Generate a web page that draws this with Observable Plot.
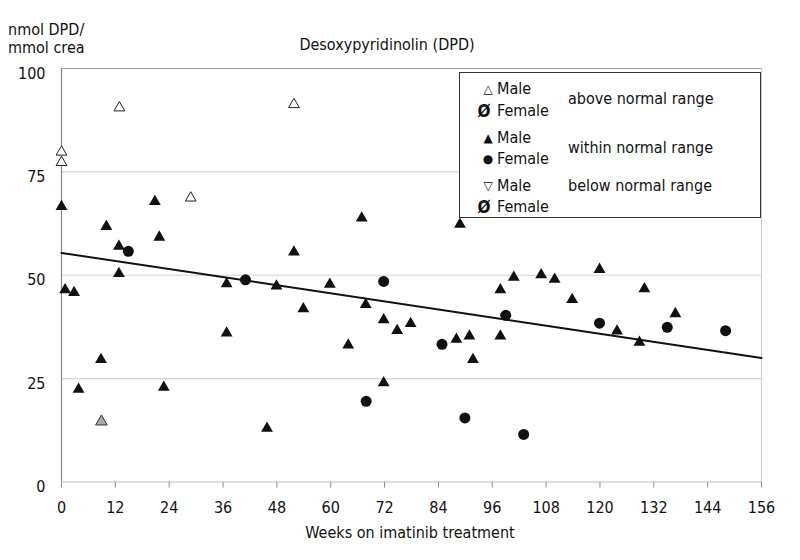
<!DOCTYPE html>
<html>
<head>
<meta charset="utf-8">
<script src="https://cdn.jsdelivr.net/npm/d3@7"></script>
<script src="https://cdn.jsdelivr.net/npm/@observablehq/plot@0.6"></script>
<style>
  html, body { margin: 0; padding: 0; background: #fff; }
  #wrap { position: relative; width: 800px; height: 560px; font-family: "Liberation Sans Narrow", "DejaVu Sans Condensed", "Arial Narrow", sans-serif; color: #111; }
  .t { position: absolute; font-size: 16px; line-height: 1; white-space: nowrap; transform: translateY(-50%); }
  .sym { position: absolute; line-height: 1; white-space: nowrap; transform: translate(-50%, -50%); font-family: "DejaVu Sans", sans-serif; font-size: 12px; }
  #legend { position: absolute; left: 459px; top: 72px; width: 302px; height: 146px; border: 1.5px solid #333; background: #fff; box-sizing: border-box; }
</style>
</head>
<body>
<div id="wrap"></div>
<script>
// ---- data ----
const xTicks = [0, 12, 24, 36, 48, 60, 72, 84, 96, 108, 120, 132, 144, 156];
const yTicks = [0, 25, 50, 75, 100];
const gridY = [25, 50, 75];

// male, above normal range (open triangles)
const aboveMaleX = [0, 0, 12.9, 28.8, 51.8];
const aboveMaleY = [79.8, 77.3, 90.5, 68.7, 91.3];

// grey triangle
const greyMaleX = [8.9];
const greyMaleY = [14.6];

// male, within normal range (filled triangles)
const withinMaleX = [0, 0.8, 2.8, 3.8, 8.8, 10.0, 12.8, 12.8, 20.8, 21.8, 22.8, 36.8, 36.8, 45.8, 47.9, 51.8, 53.9, 59.8, 63.9, 66.9, 67.8, 71.8, 71.8, 74.8, 77.8, 88.0, 88.8, 90.9, 91.7, 97.8, 97.8, 100.8, 106.9, 109.9, 113.8, 119.9, 123.8, 128.8, 129.9, 136.8];
const withinMaleY = [66.6, 46.5, 45.8, 22.4, 29.6, 61.8, 57.0, 50.4, 67.8, 59.2, 22.9, 47.9, 36.0, 13.0, 47.4, 55.6, 41.9, 47.8, 33.1, 63.8, 42.9, 39.2, 24.0, 36.6, 38.3, 34.5, 62.3, 35.3, 29.6, 46.5, 35.3, 49.5, 50.1, 49.0, 44.1, 51.4, 36.5, 33.8, 46.7, 40.7];

// female, within normal range (filled circles)
const withinFemaleX = [14.9, 41.0, 67.9, 71.8, 84.8, 89.9, 99.0, 103.0, 119.9, 135.0, 148.0];
const withinFemaleY = [55.8, 48.9, 19.5, 48.5, 33.3, 15.5, 40.3, 11.5, 38.4, 37.4, 36.6];

// trend line end points
const trendX = [0, 156];
const trendY = [55.4, 30.0];

const toRows = (xs, ys) => xs.map((x, i) => ({x, y: ys[i]}));
const aboveMale = toRows(aboveMaleX, aboveMaleY);
const greyMale = toRows(greyMaleX, greyMaleY);
const withinMale = toRows(withinMaleX, withinMaleY);
const withinFemale = toRows(withinFemaleX, withinFemaleY);
const trend = toRows(trendX, trendY);

const FONT = '"Liberation Sans Narrow", "DejaVu Sans Condensed", "Arial Narrow", sans-serif';

const chart = Plot.plot({
  width: 800,
  height: 560,
  marginLeft: 61,
  marginRight: 39,
  marginTop: 68,
  marginBottom: 78.5,
  style: {fontFamily: FONT, fontSize: "16px", color: "#111", background: "#fff", overflow: "visible"},
  x: {domain: [0, 156]},
  y: {domain: [0, 100]},
  marks: [
    Plot.ruleY(gridY, {stroke: "#d4d4d4", strokeWidth: 1.2}),
    Plot.ruleY([100], {stroke: "#9a9a9a", strokeWidth: 1.2}),
    Plot.ruleX([156], {stroke: "#cfcfcf", strokeWidth: 1.2}),
    Plot.axisX({ticks: xTicks, tickSize: 6, tickPadding: 14, stroke: "#888", fill: "#111", label: null, tickFormat: d => String(d)}),
    Plot.axisY({ticks: yTicks, tickSize: 0, tickPadding: 16, dy: 5, fill: "#111", label: null}),
    Plot.ruleX([0], {stroke: "#888", strokeWidth: 1.2}),
    Plot.ruleY([0], {stroke: "#bbb", strokeWidth: 1.2}),
    Plot.line(trend, {x: "x", y: "y", stroke: "#111", strokeWidth: 2}),
    Plot.dot(aboveMale, {x: "x", y: "y", symbol: "triangle", r: 4, fill: "#fff", stroke: "#222", strokeWidth: 1}),
    Plot.dot(greyMale, {x: "x", y: "y", symbol: "triangle", r: 4.3, fill: "#a9a9a9", stroke: "#333", strokeWidth: 1}),
    Plot.dot(withinMale, {x: "x", y: "y", symbol: "triangle", r: 4.4, fill: "#111", stroke: "none"}),
    Plot.dot(withinFemale, {x: "x", y: "y", symbol: "circle", r: 5.5, fill: "#111", stroke: "none"})
  ]
});

const wrap = document.getElementById("wrap");
chart.style.position = "absolute";
chart.style.left = "0px";
chart.style.top = "0px";
wrap.appendChild(chart);

function addText(cls, txt, left, top, extra) {
  const d = document.createElement("div");
  d.className = cls;
  d.textContent = txt;
  d.style.left = left + "px";
  d.style.top = top + "px";
  if (extra) Object.assign(d.style, extra);
  wrap.appendChild(d);
  return d;
}

// axis titles and chart title
addText("t", "nmol DPD/", 8, 30);
addText("t", "mmol crea", 8, 48);
addText("t", "Desoxypyridinolin (DPD)", 387, 45, {transform: "translate(-50%, -50%)"});
addText("t", "Weeks on imatinib treatment", 410, 533, {transform: "translate(-50%, -50%)"});

// legend
const lg = document.createElement("div");
lg.id = "legend";
wrap.appendChild(lg);

const legendRows = [
  {sym: "\u25B3", label: "Male", y: 89, symStyle: {}},
  {sym: "\u00D8", label: "Female", y: 110.5, symStyle: {fontFamily: FONT, fontSize: "17px", fontWeight: "bold"}, sx: 484},
  {sym: "\u25B2", label: "Male", y: 137.5, symStyle: {}},
  {sym: "\u25CF", label: "Female", y: 159, symStyle: {}},
  {sym: "\u25BD", label: "Male", y: 185.5, symStyle: {}},
  {sym: "\u00D8", label: "Female", y: 206.5, symStyle: {fontFamily: FONT, fontSize: "17px", fontWeight: "bold"}, sx: 484}
];
legendRows.forEach(r => {
  addText("sym", r.sym, r.sx || 488, r.y, r.symStyle);
  addText("t", r.label, 497, r.y);
});
addText("t", "above normal range", 568, 99);
addText("t", "within normal range", 568, 147.5);
addText("t", "below normal range", 568, 186);
</script>
</body>
</html>
